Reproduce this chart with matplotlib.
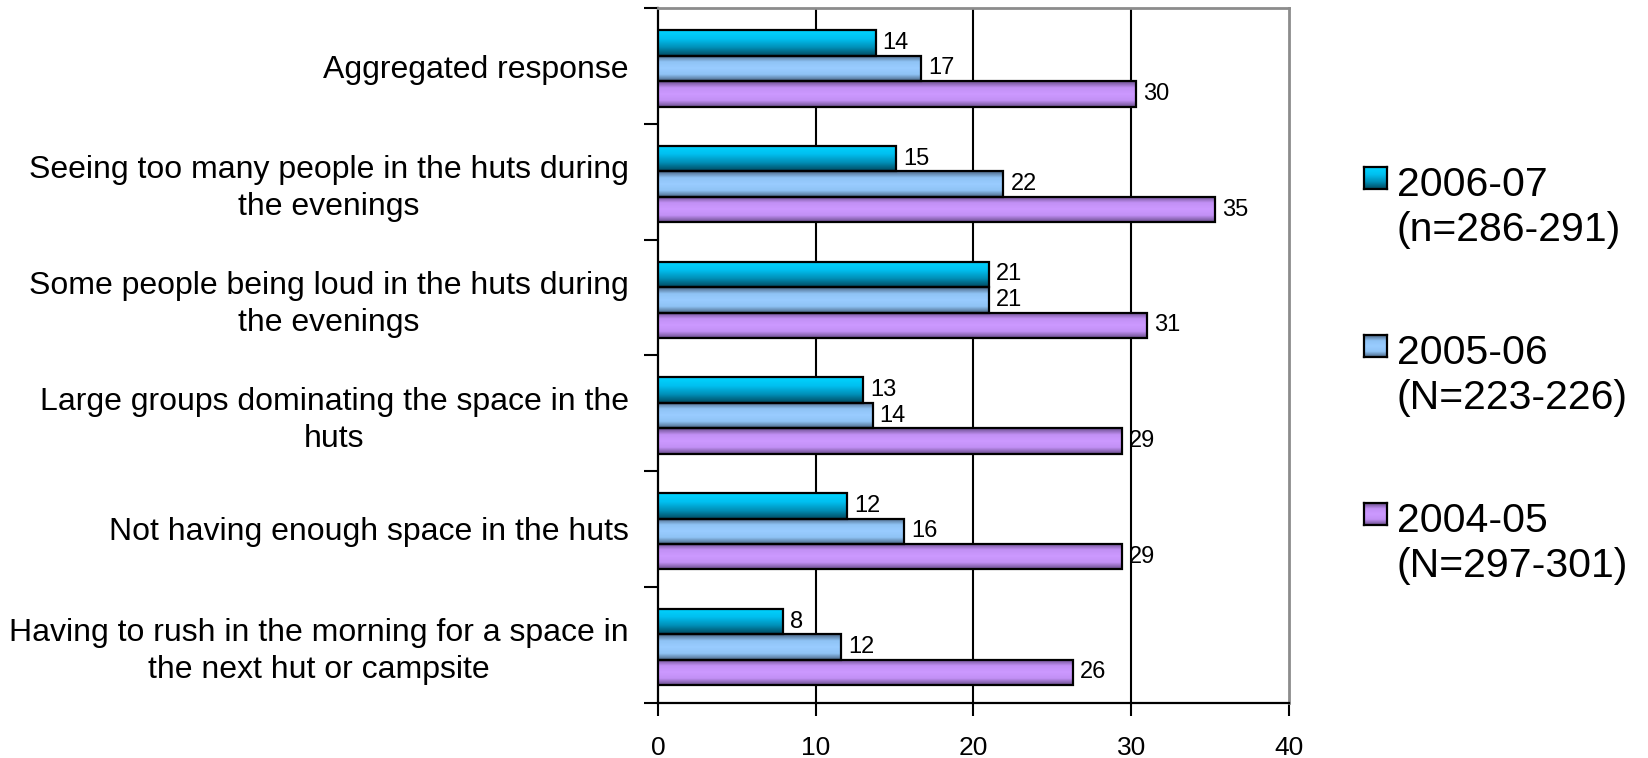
import matplotlib.pyplot as plt
import numpy as np
from matplotlib.colors import LinearSegmentedColormap

plt.rcParams["font.family"] = ["Liberation Sans", "DejaVu Sans"]

categories = [
    "Aggregated response",
    "Seeing too many people in the huts during\nthe evenings",
    "Some people being loud in the huts during\nthe evenings",
    "Large groups dominating the space in the\nhuts",
    "Not having enough space in the huts",
    "Having to rush in the morning for a space in\nthe next hut or campsite",
]
season_2006 = [13.8, 15.1, 21.0, 13.0, 12.0, 7.9]
season_2005 = [16.7, 21.9, 21.0, 13.6, 15.6, 11.6]
season_2004 = [30.3, 35.3, 31.0, 29.4, 29.4, 26.3]
legend_years = ["2006-07", "2005-06", "2004-05"]
legend_sizes = ["(n=286-291)", "(N=223-226)", "(N=297-301)"]
x_ticks = [0, 10, 20, 30, 40]

# vertical gradients, listed top edge -> bottom edge of each bar
gradients = [
    LinearSegmentedColormap.from_list("g06", ["#00d4ff", "#00c0f0", "#0090b8", "#004a60"]),
    LinearSegmentedColormap.from_list("g05", ["#4a6684", "#8fc3f5", "#99ccff", "#8fc3f5", "#4a6684"]),
    LinearSegmentedColormap.from_list("g04", ["#6a4e8c", "#c290f5", "#cc99ff", "#c290f5", "#6a4e8c"]),
]
series = [season_2006, season_2005, season_2004]
grad = np.linspace(0, 1, 64).reshape(-1, 1)

fig = plt.figure(figsize=(16.49, 7.58), dpi=100)
ax = fig.add_axes([0.399, 0.0732, 0.3827, 0.9158])

bar_h = 0.22
offsets = [-0.2, 0.02, 0.24]
y = np.arange(len(categories))

for vals, off, cmap in zip(series, offsets, gradients):
    for yi, v in zip(y, vals):
        yc = yi + off
        ax.imshow(grad, cmap=cmap, aspect="auto", origin="upper",
                  extent=(0, v, yc + bar_h / 2, yc - bar_h / 2), zorder=3)
    bars = ax.barh(y + off, vals, height=bar_h, facecolor="none",
                   edgecolor="black", linewidth=1.6, zorder=4)
    for bar, v in zip(bars, vals):
        ax.annotate(f"{v:.0f}", (v, bar.get_y() + bar.get_height() / 2),
                    xytext=(5, 0), textcoords="offset points",
                    va="center", ha="left", fontsize=17)

ax.set_xlim(0, 40)
ax.set_ylim(len(categories) - 0.5, -0.5)
ax.set_xticks(x_ticks)
ax.set_xticklabels([str(t) for t in x_ticks], fontsize=19)
ax.set_yticks(y)
ax.set_yticklabels(categories, fontsize=23, multialignment="center",
                   linespacing=1.3)
ax.set_yticks(np.arange(len(categories) + 1) - 0.5, minor=True)
ax.tick_params(axis="y", which="major", length=0, pad=21)
ax.tick_params(axis="y", which="minor", length=10, width=1.5, direction="out")
ax.tick_params(axis="x", length=9, width=1.5, direction="out", pad=15)

for gx in x_ticks[1:-1]:
    ax.axvline(gx, color="black", linewidth=1.5, zorder=1)

for side in ("left", "bottom"):
    ax.spines[side].set_color("black")
    ax.spines[side].set_linewidth(1.6)
for side in ("top", "right"):
    ax.spines[side].set_color("#8c8c8c")
    ax.spines[side].set_linewidth(2)

# legend drawn by hand: gradient swatch plus two-line label
W, H = 1649, 758
for i, (cmap, yr, n) in enumerate(zip(gradients, legend_years, legend_sizes)):
    top = 167 + i * 168
    sw = fig.add_axes([1364 / W, 1 - (top + 22) / H, 23 / W, 22 / H])
    sw.imshow(grad, cmap=cmap, aspect="auto", origin="upper")
    sw.set_xticks([])
    sw.set_yticks([])
    for s in sw.spines.values():
        s.set_linewidth(1.6)
    fig.text(1397 / W, 1 - (196 + i * 168) / H, yr, fontsize=29.5, va="baseline")
    fig.text(1397 / W, 1 - (241 + i * 168) / H, n, fontsize=29.5, va="baseline")

fig.savefig("out.png", dpi=100)
